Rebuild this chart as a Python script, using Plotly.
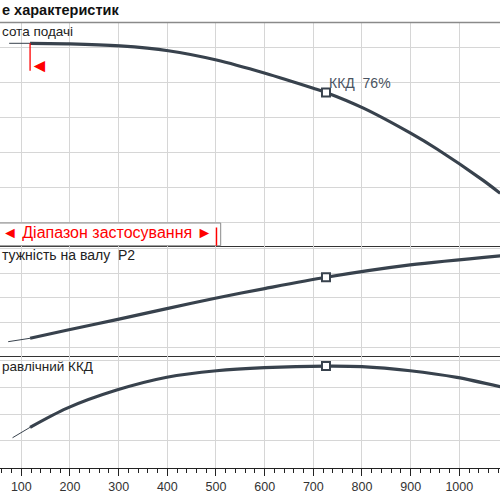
import plotly.graph_objects as go

# ---------------- data ----------------
Q_H = [75, 118, 200, 303, 402, 501, 601, 700, 726, 803, 899, 954, 1049, 1084]
H = [50.64, 50.64, 50.57, 50.26, 49.58, 48.25, 46.35, 44.20, 43.60, 41.35, 37.8, 35.5, 31.0, 29.15]

Q_P2 = [73, 118, 193, 296, 399, 501, 600, 726, 899, 1084]
P2 = [16.14, 16.83, 18.45, 20.60, 22.85, 25.00, 26.90, 29.19, 31.70, 33.55]

Q_ETA = [82, 118, 193, 296, 399, 501, 600, 726, 800, 899, 995, 1084]
ETA = [22.3, 30.1, 44.3, 58.0, 67.6, 72.5, 74.8, 76.0, 75.6, 72.5, 67.5, 60.5]

Q_DUTY = 726
H_DUTY = 43.60
P2_DUTY = 29.19
ETA_DUTY = 76

Q_RANGE = [118, 501]   # application range
X_TICKS = [100, 200, 300, 400, 500, 600, 700, 800, 900, 1000, 1100]

TITLE = "е характеристик"
LBL_H = "сота подачі"
LBL_P2 = "тужність на валу  P2"
LBL_ETA = "равлічний ККД"
LBL_DUTY = "ККД  76%"
LBL_RANGE = "◄ Діапазон застосування ►"

# ---------------- style ----------------
CURVE = "#38424d"
GRID = "#d6d6d6"
FONT = "Liberation Sans, Arial, sans-serif"
XR = [56.2, 1083.6]

fig = go.Figure()


def add_curve(qs, vs, xa, ya, qd, vd):
    n = qs.index(Q_RANGE[0])
    fig.add_trace(go.Scatter(x=qs[:n + 1], y=vs[:n + 1], mode="lines", xaxis=xa, yaxis=ya,
                             line=dict(color=CURVE, width=1), hoverinfo="skip", showlegend=False))
    fig.add_trace(go.Scatter(x=qs[n:], y=vs[n:], mode="lines", xaxis=xa, yaxis=ya,
                             line=dict(color=CURVE, width=3.2, shape="spline", smoothing=0.8),
                             hoverinfo="skip", showlegend=False))
    fig.add_trace(go.Scatter(x=[qd], y=[vd], mode="markers", xaxis=xa, yaxis=ya,
                             marker=dict(symbol="square", size=8, color="white",
                                         line=dict(color=CURVE, width=2)),
                             hoverinfo="skip", showlegend=False))


add_curve(Q_H, H, "x", "y", Q_DUTY, H_DUTY)
add_curve(Q_P2, P2, "x2", "y2", Q_DUTY, P2_DUTY)
add_curve(Q_ETA, ETA, "x3", "y3", Q_DUTY, ETA_DUTY)

D_TOP = [0.5086, 0.955]
D_MID = [0.2886, 0.5086]
D_BOT = [0.065, 0.2886]

xcommon = dict(range=XR, tickvals=X_TICKS, showgrid=True, gridcolor=GRID, gridwidth=1,
               zeroline=False, fixedrange=True)

fig.update_layout(
    width=500, height=500,
    margin=dict(l=0, r=0, t=0, b=0),
    paper_bgcolor="white", plot_bgcolor="white",
    font=dict(family=FONT, color="#222222"),
    xaxis=dict(**xcommon, anchor="y", showticklabels=False, showline=True,
               linecolor="#333333", linewidth=1.3, ticks=""),
    xaxis2=dict(**xcommon, anchor="y2", matches="x", showticklabels=False, showline=True,
                linecolor="#333333", linewidth=1.3, ticks=""),
    xaxis3=dict(**xcommon, anchor="y3", matches="x", showticklabels=True, showline=True,
                linecolor="#222222", linewidth=1.3, ticks="outside", ticklen=7,
                tickcolor="#222222", tickwidth=1,
                tickfont=dict(size=12.5, color="#333333", family=FONT),
                minor=dict(dtick=20, tick0=0, ticks="outside", ticklen=4,
                           tickcolor="#222222", tickwidth=1, showgrid=False)),
    yaxis=dict(domain=D_TOP, range=[21.65, 53.62], dtick=5, tick0=0, showticklabels=False,
               showgrid=True, gridcolor=GRID, zeroline=False, anchor="x", fixedrange=True),
    yaxis2=dict(domain=D_MID, range=[13.30, 35.59], dtick=5, tick0=0, showticklabels=False,
                showgrid=True, gridcolor=GRID, zeroline=False, anchor="x2", fixedrange=True),
    yaxis3=dict(domain=D_BOT, range=[0, 83.75], dtick=20, tick0=0, showticklabels=False,
                showgrid=True, gridcolor=GRID, zeroline=False, anchor="x3", fixedrange=True),
)

shapes = [
    # top border of upper panel
    dict(type="line", xref="paper", yref="paper", x0=0, x1=1, y0=D_TOP[1], y1=D_TOP[1],
         line=dict(color="#8a8a8a", width=1.5), layer="above"),
    # application range box
    dict(type="rect", xref="paper", yref="paper", x0=-0.01, x1=0.4414, y0=D_TOP[0], y1=0.554,
         line=dict(color="#8a8a8a", width=1), fillcolor="white", layer="above"),
    # red marker lines
    dict(type="line", xref="x", yref="paper", x0=Q_RANGE[0], x1=Q_RANGE[0],
         y0=0.9134, y1=0.8586, line=dict(color="#ff0000", width=1.3), layer="above"),
    dict(type="line", xref="x", yref="paper", x0=Q_RANGE[1], x1=Q_RANGE[1],
         y0=0.545, y1=D_TOP[0], line=dict(color="#ff0000", width=1.5), layer="above"),
]
fig.update_layout(shapes=shapes)

ann = [
    dict(text="<b>" + TITLE + "</b>", xref="paper", yref="paper", x=0, y=0.98,
         xanchor="left", yanchor="middle", showarrow=False,
         font=dict(size=14.5, color="#111111", family=FONT)),
    dict(text=LBL_H, xref="paper", yref="paper", x=0, y=0.938, xanchor="left",
         yanchor="middle", showarrow=False, font=dict(size=13.5, color="#222222")),
    dict(text=LBL_P2, xref="paper", yref="paper", x=0, y=0.491, xanchor="left",
         yanchor="middle", showarrow=False, font=dict(size=14, color="#222222")),
    dict(text=LBL_ETA, xref="paper", yref="paper", x=0, y=0.267, xanchor="left",
         yanchor="middle", showarrow=False, font=dict(size=13.5, color="#222222")),
    dict(text=LBL_DUTY, xref="x", yref="y", x=Q_DUTY, y=H_DUTY, xanchor="left",
         yanchor="middle", yshift=9, xshift=1, showarrow=False,
         font=dict(size=14, color="#4a5361")),
    dict(text=LBL_RANGE, xref="x", yref="paper", x=Q_RANGE[1], y=0.5346, xanchor="right",
         yanchor="middle", xshift=-2, showarrow=False,
         font=dict(size=16, color="#ff0000")),
    dict(text="◄", xref="x", yref="paper", x=Q_RANGE[0], y=0.869, xanchor="left",
         yanchor="middle", xshift=-2, showarrow=False,
         font=dict(size=19, color="#ff0000")),
]
fig.update_layout(annotations=ann)

fig.write_html("out.html", config={"displayModeBar": False},
               post_script="document.body.style.margin='0';document.body.style.padding='0';")
